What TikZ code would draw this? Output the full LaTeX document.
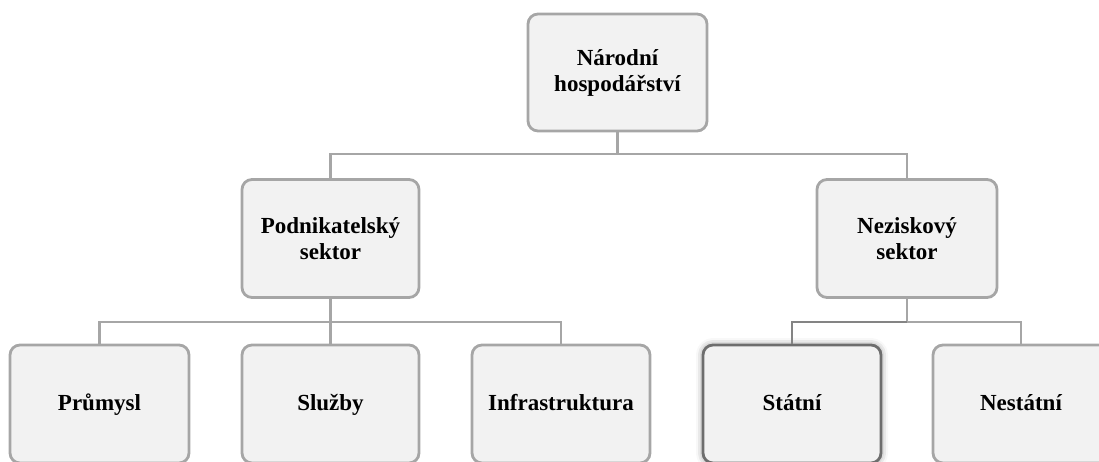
\documentclass[tikz,border=0pt]{standalone}
\usepackage{fontspec}
\setmainfont{Liberation Serif}
\usetikzlibrary{shadows.blur}
\definecolor{boxfill}{HTML}{F2F2F2}
\definecolor{boxline}{HTML}{A6A6A6}
\definecolor{darkline}{HTML}{6E6E6E}
\definecolor{linkline}{HTML}{A6A6A6}
\tikzset{
  unitbox/.style={draw=boxline, line width=2.8pt, fill=boxfill, rounded corners=10pt,
    minimum width=177pt, minimum height=118pt, align=center, inner sep=0pt,
    font=\fontsize{23}{26}\selectfont\bfseries},
  leafbox/.style={unitbox, text height=17pt, text depth=5pt},
  focusbox/.style={leafbox, draw=darkline,
    blur shadow={shadow xshift=0pt, shadow yshift=0pt, shadow blur radius=7pt, shadow opacity=45}},
  link/.style={draw=linkline, line width=2.4pt},
  darklink/.style={draw=darkline!85, line width=2.4pt}
}
\begin{document}
\begin{tikzpicture}[x=1pt, y=-1pt]
  \useasboundingbox (0,0) rectangle (1099,461);
  \clip (0,0) rectangle (1099,461);

  % tree of the national economy
  \node[unitbox, minimum width=179pt, minimum height=117pt] (root) at (617.5,72.5) {Národní\\hospodářství};
  \node[unitbox] (pod) at (330.5,238.5) {Podnikatelský\\sektor};
  \node[unitbox, minimum width=180pt] (nez) at (907,238.5) {Neziskový\\sektor};

  \node[leafbox, minimum width=179pt] (prum) at (99.5,404) {Průmysl};
  \node[leafbox] (sluz) at (330.5,404) {Služby};
  \node[leafbox, minimum width=178pt] (infra) at (561,404) {Infrastruktura};
  \node[focusbox, minimum width=178pt] (stat) at (792,404) {Státní};
  \node[leafbox, minimum width=176pt] (nest) at (1021,404) {Nestátní};

  % connectors between levels
  \coordinate (busA) at (0,154);
  \coordinate (busB) at (0,322);
  \draw[link] (root.south) -- (root.south |- busA) -| (pod.north);
  \draw[link] (root.south |- busA) -| (nez.north);

  \draw[link] (pod.south) -- (pod.south |- busB) -| (prum.north);
  \draw[link] (pod.south |- busB) -| (infra.north);
  \draw[link] (pod.south |- busB) -- (sluz.north);

  \draw[link] (nez.south) -- (nez.south |- busB) -| (nest.north);
  \draw[darklink] (nez.south |- busB) -| (stat.north);
\end{tikzpicture}
\end{document}
